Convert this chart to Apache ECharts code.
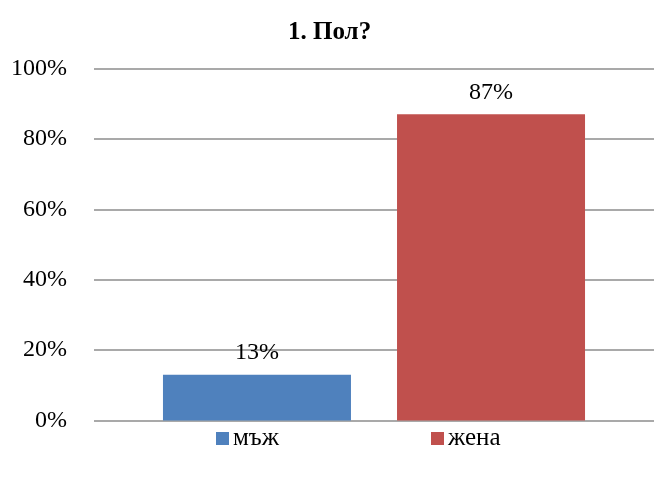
<!DOCTYPE html>
<html>
<head>
<meta charset="utf-8">
<script src="https://cdn.jsdelivr.net/npm/echarts@6/dist/echarts.min.js"></script>
<style>html,body{margin:0;padding:0;background:#fff}#c{width:654px;height:478px}</style>
</head>
<body>
<div id="c"></div>
<script>
var categories = ['1. Пол?'];
var seriesNames = ['мъж', 'жена'];
var maleValues = [13];
var femaleValues = [87];
var colors = ['#4F81BD', '#C0504D'];

var chart = echarts.init(document.getElementById('c'), null, {renderer: 'canvas'});
var font = 'Liberation Serif, Times New Roman, serif';
chart.setOption({
  animation: false,
  title: {
    text: '1. Пол?', left: 288, top: 20, padding: 0,
    textStyle: {fontFamily: font, fontSize: 25, fontWeight: 'bold', color: '#000'}
  },
  legend: [{
    data: [seriesNames[0]], left: 216, top: 426, itemWidth: 13, itemHeight: 13,
    icon: 'rect', itemGap: 4, padding: 0,
    textStyle: {fontFamily: font, fontSize: 25, color: '#000', padding: [0,0,0,-1]}
  }, {
    data: [seriesNames[1]], left: 431, top: 426, itemWidth: 13, itemHeight: 13,
    icon: 'rect', itemGap: 4, padding: 0,
    textStyle: {fontFamily: font, fontSize: 25, color: '#000', padding: [0,0,0,-1]}
  }],
  grid: {left: 94, right: 0, top: 68.5, bottom: 57.5, containLabel: false},
  xAxis: {
    type: 'category', data: categories,
    axisLine: {show: false}, axisTick: {show: false}, axisLabel: {show: false}
  },
  yAxis: {
    type: 'value', min: 0, max: 100, interval: 20,
    axisLine: {show: false}, axisTick: {show: false},
    axisLabel: {formatter: '{value}%', fontFamily: font, fontSize: 24, color: '#000', margin: 27},
    splitLine: {lineStyle: {color: '#8c8c8c', width: 1.5}}
  },
  series: [{
    name: seriesNames[0], type: 'bar', data: maleValues, barWidth: 188, barGap: '24.5%',
    itemStyle: {color: colors[0]},
    label: {show: true, position: 'top', distance: 10, formatter: '{c}%', fontFamily: font, fontSize: 24, color: '#000'}
  }, {
    name: seriesNames[1], type: 'bar', data: femaleValues, barWidth: 188, barGap: '24.5%',
    itemStyle: {color: colors[1]},
    label: {show: true, position: 'top', distance: 10, formatter: '{c}%', fontFamily: font, fontSize: 24, color: '#000'}
  }]
});
</script>
</body>
</html>
